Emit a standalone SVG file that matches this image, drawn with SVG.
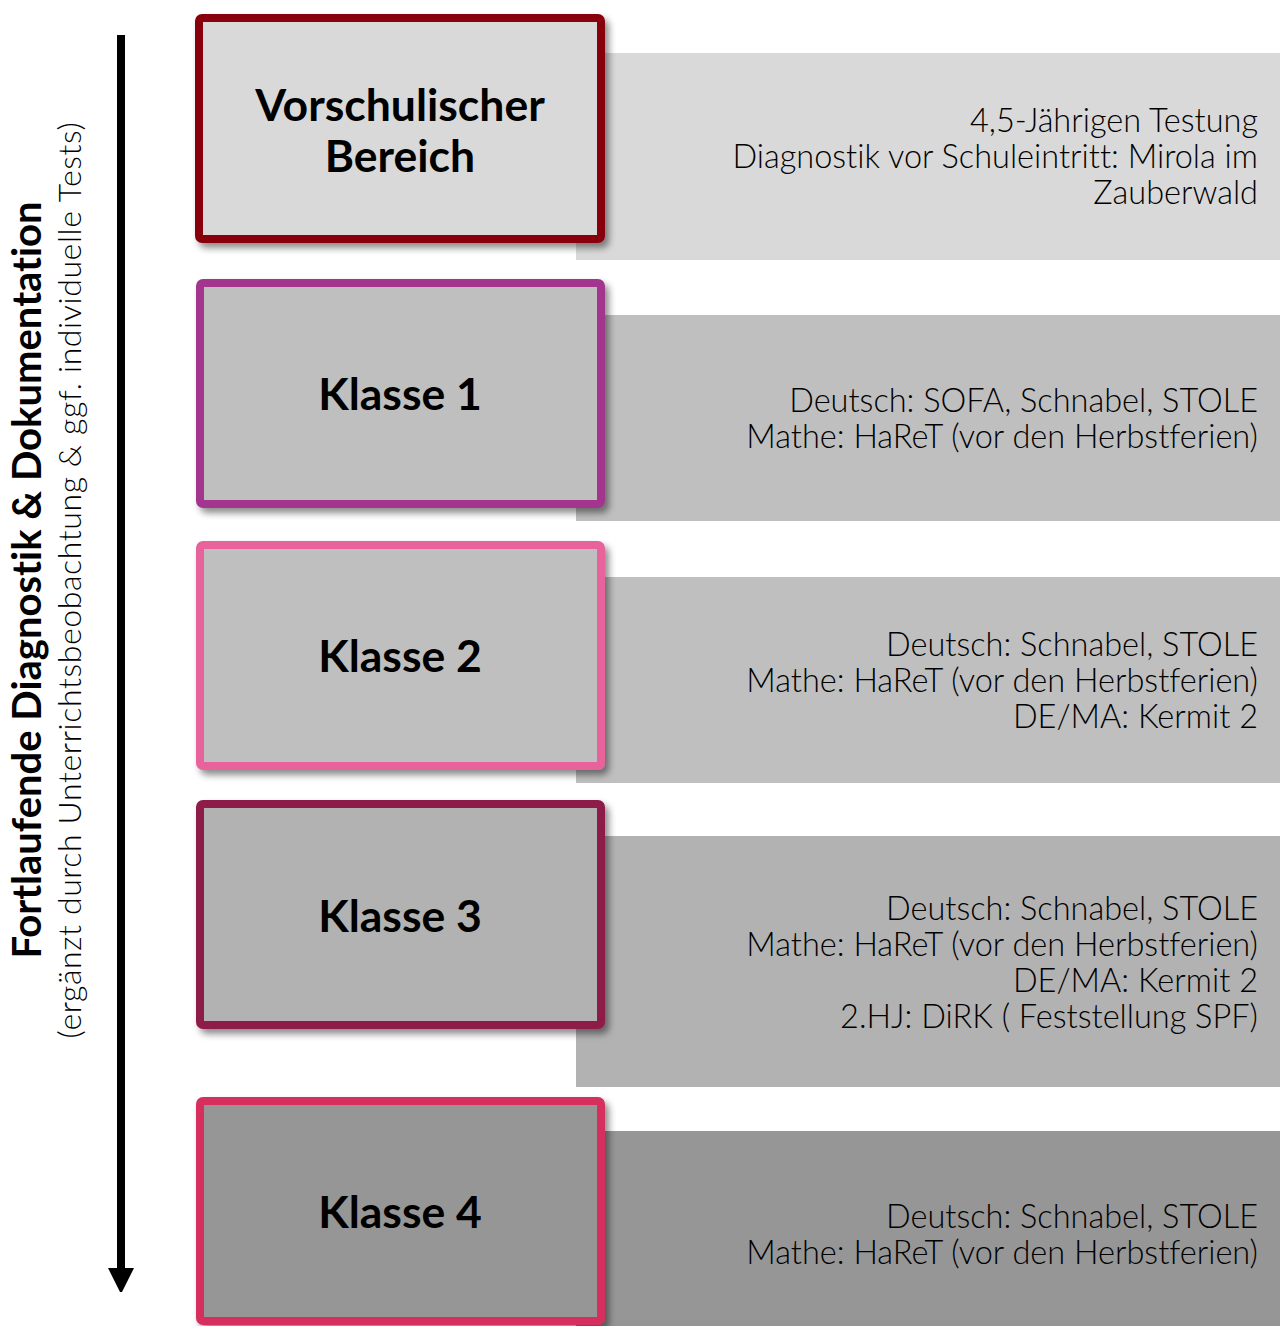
<svg xmlns="http://www.w3.org/2000/svg" width="1284" height="1326" viewBox="0 0 1284 1326">
  <defs>
    <filter id="shadow" x="-10%" y="-10%" width="125%" height="130%">
      <feDropShadow dx="4" dy="5" stdDeviation="3.5" flood-color="#000" flood-opacity="0.45"/>
    </filter>
    <marker id="arrowhead" markerWidth="24" markerHeight="26" refX="0" refY="13" orient="auto" markerUnits="userSpaceOnUse">
      <path d="M0,0 L26,13 L0,26 Z" fill="#000"/>
    </marker>
    <style>
      text { font-variant-ligatures: none; font-feature-settings: "liga" 0, "dlig" 0; }
      .box { stroke-width: 8; filter: url(#shadow); }
      .title { font-family: Lato, "Liberation Sans", sans-serif; font-weight: bold; font-size: 44.5px; fill: #000; text-anchor: middle; }
      .info { font-family: Lato, "Liberation Sans", sans-serif; font-weight: 300; font-size: 32.5px; fill: #000; text-anchor: end; }
      .side-b { font-family: Lato, "Liberation Sans", sans-serif; font-weight: bold; font-size: 40px; fill: #000; text-anchor: middle; }
      .side-r { font-family: Lato, "Liberation Sans", sans-serif; font-weight: 300; font-size: 32px; letter-spacing: 0.6px; fill: #000; text-anchor: middle; }
    </style>
  </defs>
  <rect width="1284" height="1326" fill="#fff"/>

  <g id="connectors">
    <line x1="121" y1="35" x2="121" y2="1268" stroke="#000" stroke-width="8" marker-end="url(#arrowhead)"/>
  </g>

  <g id="side-label">
    <text class="side-b" transform="translate(41,580) rotate(-90)">Fortlaufende Diagnostik &amp; Dokumentation</text>
    <text class="side-r" transform="translate(81,580) rotate(-90)">(ergänzt durch Unterrichtsbeobachtung &amp; ggf. individuelle Tests)</text>
  </g>

  <g id="stage-vorschule">
    <rect x="576" y="53" width="704" height="207" fill="#d9d9d9"/>
    <text class="info"><tspan x="1258" y="132">4,5-Jährigen Testung</tspan><tspan x="1258" y="168">Diagnostik vor Schuleintritt: Mirola im</tspan><tspan x="1258" y="204">Zauberwald</tspan></text>
    <rect class="box" x="199" y="18" width="402" height="221" rx="3" fill="#d9d9d9" stroke="#89000f"/>
    <text class="title"><tspan x="400" y="121">Vorschulischer</tspan><tspan x="400" y="172">Bereich</tspan></text>
  </g>

  <g id="stage-klasse1">
    <rect x="576" y="315" width="704" height="206" fill="#bfbfbf"/>
    <text class="info"><tspan x="1258" y="412">Deutsch: SOFA, Schnabel, STOLE</tspan><tspan x="1258" y="448">Mathe: HaReT (vor den Herbstferien)</tspan></text>
    <rect class="box" x="200" y="283" width="401" height="221" rx="3" fill="#bfbfbf" stroke="#a4358f"/>
    <text class="title" x="400" y="410">Klasse 1</text>
  </g>

  <g id="stage-klasse2">
    <rect x="576" y="577" width="704" height="206" fill="#bfbfbf"/>
    <text class="info"><tspan x="1258" y="656">Deutsch: Schnabel, STOLE</tspan><tspan x="1258" y="692">Mathe: HaReT (vor den Herbstferien)</tspan><tspan x="1258" y="728">DE/MA: Kermit 2</tspan></text>
    <rect class="box" x="200" y="545" width="401" height="221" rx="3" fill="#bfbfbf" stroke="#e8649b"/>
    <text class="title" x="400" y="672">Klasse 2</text>
  </g>

  <g id="stage-klasse3">
    <rect x="576" y="836" width="704" height="251" fill="#b2b2b2"/>
    <text class="info"><tspan x="1258" y="920">Deutsch: Schnabel, STOLE</tspan><tspan x="1258" y="956">Mathe: HaReT (vor den Herbstferien)</tspan><tspan x="1258" y="992">DE/MA: Kermit 2</tspan><tspan x="1258" y="1028">2.HJ: DiRK ( Feststellung SPF)</tspan></text>
    <rect class="box" x="200" y="804" width="401" height="221" rx="3" fill="#b2b2b2" stroke="#8e1a48"/>
    <text class="title" x="400" y="932">Klasse 3</text>
  </g>

  <g id="stage-klasse4">
    <rect x="576" y="1131" width="704" height="195" fill="#969696"/>
    <text class="info"><tspan x="1258" y="1228">Deutsch: Schnabel, STOLE</tspan><tspan x="1258" y="1264">Mathe: HaReT (vor den Herbstferien)</tspan></text>
    <rect class="box" x="200" y="1101" width="401" height="220" rx="3" fill="#969696" stroke="#d62e5d"/>
    <text class="title" x="400" y="1228">Klasse 4</text>
  </g>
</svg>
